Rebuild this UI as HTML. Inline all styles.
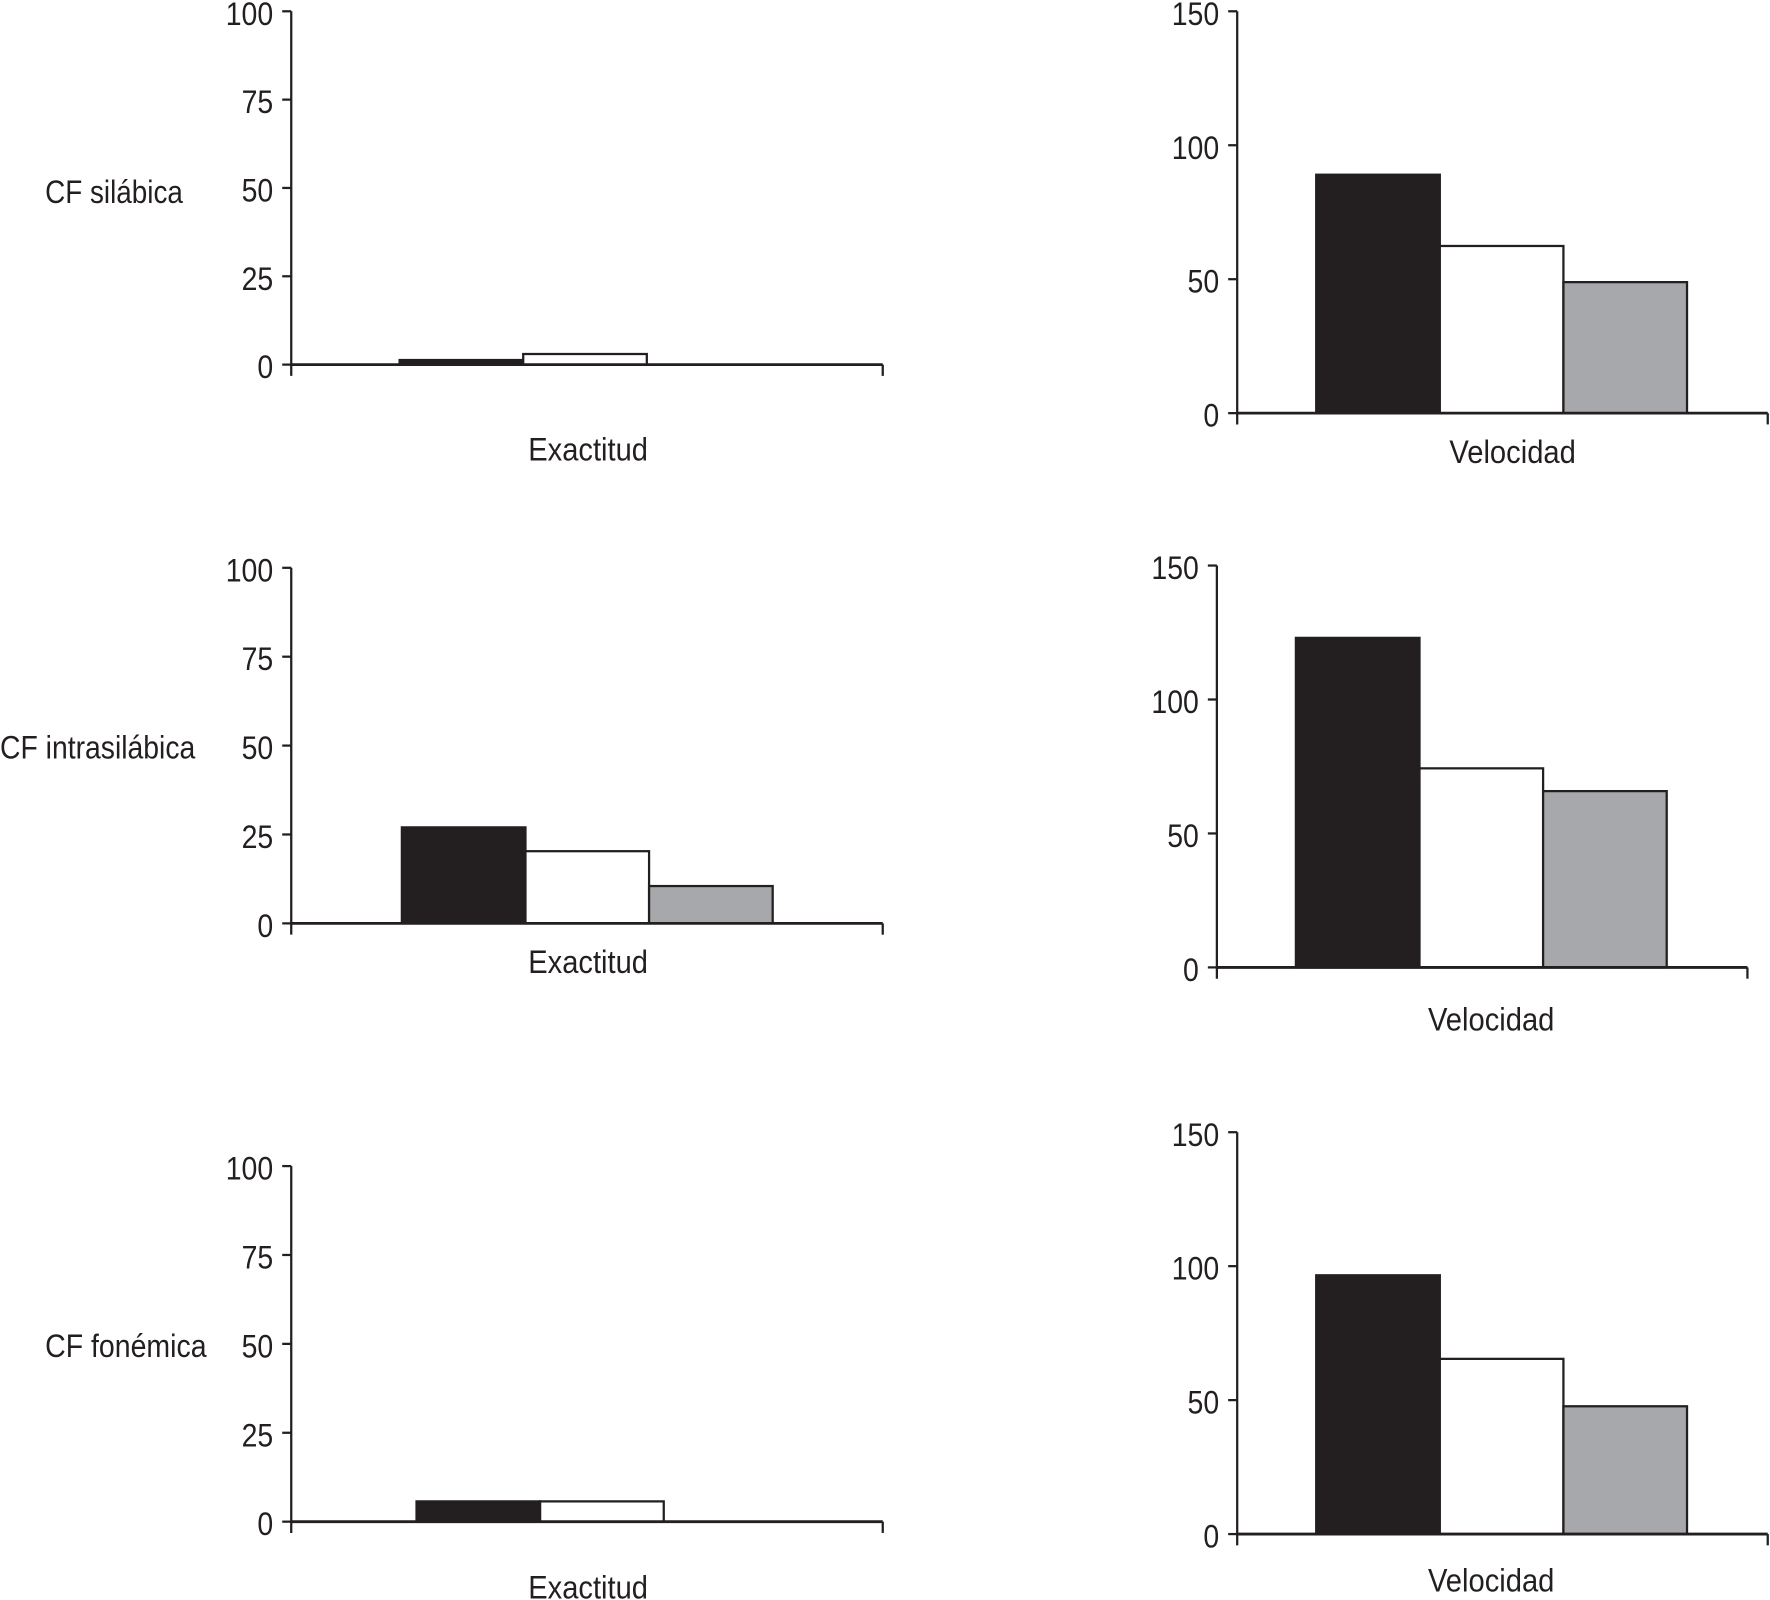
<!DOCTYPE html>
<html><head><meta charset="utf-8"><style>
html,body{margin:0;padding:0;background:#fff;}
svg{display:block;}
text{font-family:"Liberation Sans",sans-serif;fill:#231f20;}
</style></head>
<body>
<svg id="chart" width="1770" height="1600" viewBox="0 0 1568 1417.4" xmlns="http://www.w3.org/2000/svg"></svg>
<script>
// Data
const rowLabels = ["CF silábica", "CF intrasilábica", "CF fonémica"];
const groupNames = ["grupo-1", "grupo-2", "grupo-3"];
const exactitudValues = [[1.3, 3, 0], [27, 20.3, 10.5], [5.7, 5.7, 0]];
const velocidadValues = [[89, 62.4, 48.9], [123, 74.3, 65.8], [96.6, 65.4, 47.7]];
const exactitudTicks = [0, 25, 50, 75, 100];
const velocidadTicks = [0, 50, 100, 150];
const exactitudLabel = "Exactitud";
const velocidadLabel = "Velocidad";

// Layout (pixel geometry, separate from data)
const colors = ["#231f20", "#ffffff", "#a7a8ab"];
const leftPanels = [
  {ax:258, top:10, zero:323, right:782, bar0:354, xl:398},
  {ax:258, top:503, zero:818, right:782, bar0:356, xl:852},
  {ax:258, top:1033, zero:1348, right:782, bar0:369, xl:1406}
];
const rightPanels = [
  {ax:1096, top:10, zero:366, right:1566, bar0:1166, xl:400},
  {ax:1078, top:501, zero:857, right:1548, bar0:1148, xl:903},
  {ax:1096, top:1003, zero:1359, right:1566, bar0:1166, xl:1400}
];
const rowLabelPos = [{x:40,y:170,w:122},{x:0,y:662,w:173},{x:40,y:1192,w:143}];
const barW = 109.5;
const svg = document.getElementById('chart');
const NS = "http://www.w3.org/2000/svg";
function mk(tag, attrs, parent){
  const e = document.createElementNS(NS, tag);
  for (const k in attrs) e.setAttribute(k, attrs[k]);
  (parent||svg).appendChild(e);
  return e;
}
function txt(s, x, y, anchor, w, parent){
  const t = mk('text', {x:x, y:y, 'font-size':29, 'text-anchor':anchor, textLength:w, lengthAdjust:'spacingAndGlyphs'}, parent);
  t.textContent = s;
  return t;
}
function panel(p, vals, ticks, maxV, label, labelX, name){
  const g = mk('g', {});
  
  
  const y = v => p.zero - (v / maxV) * (p.zero - p.top);
  vals.forEach((v, i) => {
    const x0 = p.bar0 + i * barW;
    const r = mk('rect', {x:x0, y:y(v), width:barW, height:Math.max(p.zero - y(v), 0), fill:colors[i], stroke:'#231f20', 'stroke-width':2}, g);
    
    
  });
  const ya = mk('line', {x1:p.ax, y1:p.top, x2:p.ax, y2:p.zero + 10, stroke:'#231f20', 'stroke-width':2}, g);
  
  
  const xa = mk('line', {x1:p.ax, y1:p.zero, x2:p.right, y2:p.zero, stroke:'#231f20', 'stroke-width':2.5}, g);
  
  
  mk('line', {x1:p.right, y1:p.zero, x2:p.right, y2:p.zero + 10, stroke:'#231f20', 'stroke-width':2}, g);
  ticks.forEach(t => {
    const ty = y(t);
    mk('line', {x1:p.ax - 8, y1:ty, x2:p.ax, y2:ty, stroke:'#231f20', 'stroke-width':2}, g);
    const s = String(t);
    const lt = txt(s, p.ax - 16, ty + 12, 'end', s.length * 14, g);
    
    
  });
  const xl = txt(label, labelX, p.xl + 10, 'middle', label === 'Exactitud' ? 106 : 112, g);
  
  
}
for (let r = 0; r < 3; r++) {
  panel(leftPanels[r], exactitudValues[r], exactitudTicks, 100, exactitudLabel, 521, 'exactitud-panel-' + (r+1));
  panel(rightPanels[r], velocidadValues[r], velocidadTicks, 150, velocidadLabel, r === 0 ? 1340 : 1321, 'velocidad-panel-' + (r+1));
  const rl = txt(rowLabels[r], rowLabelPos[r].x, rowLabelPos[r].y + 10, 'start', rowLabelPos[r].w);
  
  
}
</script>
</body></html>
